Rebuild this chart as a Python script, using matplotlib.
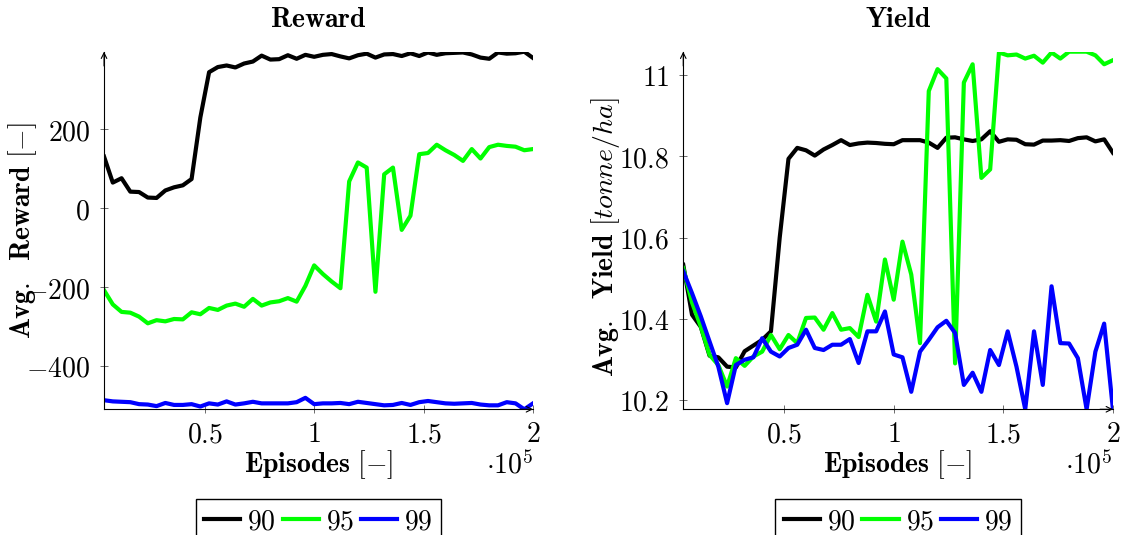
import numpy as np
import matplotlib.pyplot as plt
from matplotlib.ticker import FuncFormatter

plt.rcParams['mathtext.fontset'] = 'cm'

# episodes (x axis)
episodes = np.arange(4000, 200001, 4000)

# average reward per setting
reward_90 = [131, 65, 76, 42, 41, 27, 26, 45, 53, 58, 74, 230, 345, 358, 362, 357, 367, 372, 387, 377,
             378, 388, 379, 389, 384, 389, 391, 385, 380, 388, 392, 382, 390, 391, 386, 393, 386, 395, 389, 393,
             394, 395, 390, 382, 379, 395, 392, 393, 397, 381]
reward_95 = [-208, -244, -263, -265, -275, -292, -284, -287, -281, -282, -264, -269, -253, -258, -247, -242,
             -250, -230, -247, -239, -236, -228, -237, -197, -145, -167, -186, -203, 68, 116, 103, -212, 86, 103,
             -55, -19, 137, 140, 161, 147, 135, 120, 150, 126, 155, 161, 158, 156, 147, 150]
reward_99 = [-487, -490, -491, -492, -497, -498, -502, -494, -499, -499, -497, -503, -495, -498, -490, -498,
             -495, -491, -495, -495, -495, -495, -492, -481, -497, -495, -495, -494, -497, -491, -494, -497,
             -500, -499, -494, -499, -492, -489, -492, -495, -496, -495, -494, -498, -500, -500, -492, -495,
             -510, -495]

# average yield per setting (tonne/ha)
yield_90 = [10.533, 10.41, 10.38, 10.309, 10.305, 10.282, 10.28, 10.32, 10.334, 10.348, 10.369, 10.60,
            10.794, 10.821, 10.815, 10.802, 10.817, 10.828, 10.84, 10.828, 10.832, 10.834, 10.833, 10.831,
            10.830, 10.84, 10.84, 10.84, 10.834, 10.821, 10.846, 10.847, 10.842, 10.838, 10.842, 10.862,
            10.836, 10.842, 10.841, 10.830, 10.829, 10.839, 10.839, 10.840, 10.838, 10.845, 10.847, 10.837,
            10.842, 10.809]
yield_95 = [10.525, 10.44, 10.381, 10.311, 10.286, 10.233, 10.303, 10.284, 10.307, 10.319, 10.360, 10.325,
            10.360, 10.340, 10.402, 10.403, 10.373, 10.414, 10.373, 10.377, 10.355, 10.459, 10.393, 10.546,
            10.447, 10.59, 10.509, 10.34, 10.961, 11.015, 10.992, 10.29, 10.982, 11.027, 10.747, 10.768,
            11.056, 11.049, 11.051, 11.041, 11.048, 11.031, 11.056, 11.041, 11.058, 11.058, 11.058, 11.049,
            11.027, 11.037]
yield_99 = [10.517, 10.463, 10.406, 10.344, 10.282, 10.192, 10.286, 10.299, 10.305, 10.352, 10.319, 10.307,
            10.328, 10.336, 10.373, 10.328, 10.323, 10.336, 10.336, 10.35, 10.291, 10.369, 10.369, 10.418,
            10.312, 10.305, 10.220, 10.319, 10.348, 10.379, 10.395, 10.365, 10.237, 10.267, 10.220, 10.323,
            10.286, 10.369, 10.282, 10.177, 10.369, 10.237, 10.480, 10.340, 10.339, 10.303, 10.177, 10.319,
            10.388, 10.177]

labels = ['90', '95', '99']
colors = ['black', '#00ff00', '#0000ff']
xticks = [50000, 100000, 150000, 200000]
reward_ticks = [-400, -200, 0, 200]
yield_ticks = [10.2, 10.4, 10.6, 10.8, 11.0]

FS = 20


def style_axis(ax, series, yticks, title, ylabel):
    for s, lab, c in zip(series, labels, colors):
        ax.plot(episodes, s, color=c, lw=3, label=r'$%s$' % lab)

    ax.set_xlim(episodes[0], episodes[-1])
    ax.set_ylim(min(min(s) for s in series), max(max(s) for s in series))
    ax.set_xticks(xticks)
    ax.set_yticks(yticks)
    ax.xaxis.set_major_formatter(FuncFormatter(lambda v, p: r'$%g$' % (v / 1e5)))
    ax.yaxis.set_major_formatter(FuncFormatter(lambda v, p: r'$%g$' % v))
    ax.tick_params(direction='inout', length=6, width=0.6, color='#555555', labelsize=FS)
    ax.tick_params(axis='y', pad=7)
    ax.tick_params(axis='x', pad=5)

    # pgfplots-like axis lines with arrows
    for side in ['top', 'right']:
        ax.spines[side].set_visible(False)
    for side in ['left', 'bottom']:
        ax.spines[side].set_linewidth(0.8)
    ax.annotate('', xy=(0, 1.0), xytext=(0, 0.96), xycoords='axes fraction',
                arrowprops=dict(arrowstyle='->', lw=0.8, color='black', shrinkA=0, shrinkB=0))
    ax.annotate('', xy=(1.0, 0), xytext=(0.97, 0), xycoords='axes fraction',
                arrowprops=dict(arrowstyle='->', lw=0.8, color='black', shrinkA=0, shrinkB=0))

    ax.text(0.5, 1.09, title, transform=ax.transAxes, ha='center', va='center', fontsize=FS)
    ax.set_xlabel(r'$\mathbf{Episodes}\ [-]$', fontsize=FS)
    ax.xaxis.set_label_coords(0.5, -0.156)
    ax.xaxis.label.set_va('center')
    ax.set_ylabel(ylabel, fontsize=FS)
    ax.yaxis.label.set_va('center')
    ax.text(1.0, -0.156, r'$\cdot 10^5$', transform=ax.transAxes, ha='right', va='center', fontsize=FS)

    ax.legend(loc='upper center', bbox_to_anchor=(0.5, -0.25), ncol=3, fontsize=FS,
              frameon=True, fancybox=False, edgecolor='black', framealpha=1, borderaxespad=0,
              handlelength=1.3, handletextpad=0.25, columnspacing=0.25, borderpad=0.3)


fig = plt.figure(figsize=(11.21, 5.35), dpi=100)
ax1 = fig.add_axes([0.0928, 0.2350, 0.3827, 0.6684])
ax2 = fig.add_axes([0.6095, 0.2350, 0.3833, 0.6684])

style_axis(ax1, [reward_90, reward_95, reward_99], reward_ticks,
           r'$\mathbf{Reward}$', r'$\mathbf{Avg.\ \ Reward}\ [-]$')
ax1.yaxis.set_label_coords(-0.19, 0.50)

style_axis(ax2, [yield_90, yield_95, yield_99], yield_ticks,
           r'$\mathbf{Yield}$', r'$\mathbf{Avg.\ \ Yield}\ [tonne/ha]$')
ax2.yaxis.set_label_coords(-0.182, 0.48)

fig.savefig('out.png', dpi=100)
